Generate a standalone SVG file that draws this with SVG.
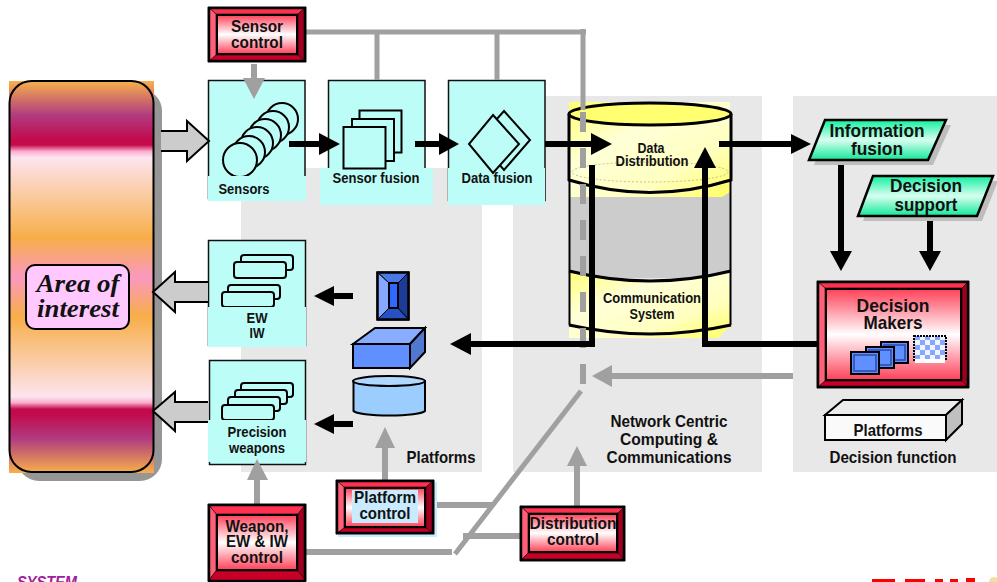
<svg xmlns="http://www.w3.org/2000/svg" width="997" height="582" viewBox="0 0 997 582">
<style>
text{font-family:"Liberation Sans",Arial,sans-serif;font-weight:bold;fill:#111;text-anchor:middle}
.s13{font-size:14.500px}.s15{font-size:17px}.s17{font-size:18.500px}
.panel{fill:#e8e8e8}
.box{fill:#bdfdf8;stroke:#111;stroke-width:1.5}
.band{fill:#bdfdf8}
.ico{fill:#bdfdf8;stroke:#000;stroke-width:2}
.bt{fill:#ff3050}.bl{fill:#ff6078}.br{fill:#a00020}.bb{fill:#c80028}
.bo{fill:none;stroke:#000;stroke-width:2.500}
.bi{fill:url(#red);stroke:#000;stroke-width:2}
.bx{stroke:#000;stroke-width:.6}
.gl{fill:none;stroke:#a0a0a0;stroke-width:6}
.gh{fill:#a0a0a0}
.kl{fill:none;stroke:#000;stroke-width:6}
.kh{fill:#000}
.blk{fill:#ccc}
.blks{fill:none;stroke:#000;stroke-width:2}
.par{fill:url(#grn);stroke:#000;stroke-width:2.500}
.cy{stroke:#000;stroke-width:3;fill:none}
.win{fill:#6090ff;stroke:#000;stroke-width:2}
.winb{fill:none;stroke:#2848a8;stroke-width:1.5}
</style>
<defs>
<linearGradient id="aoi" gradientUnits="userSpaceOnUse" x1="0" y1="81" x2="0" y2="473">
<stop offset="0" stop-color="#f7b04a"/><stop offset="0.087" stop-color="#b03c80"/><stop offset="0.15" stop-color="#c20a4c"/><stop offset="0.163" stop-color="#c20a4c"/><stop offset="0.18" stop-color="#fbb0d0"/><stop offset="0.195" stop-color="#fde4ef"/><stop offset="0.4" stop-color="#f7ae48"/><stop offset="0.5" stop-color="#fb98c0"/><stop offset="0.6" stop-color="#f7ae48"/><stop offset="0.805" stop-color="#fde4ef"/><stop offset="0.82" stop-color="#fbb0d0"/><stop offset="0.837" stop-color="#c20a4c"/><stop offset="0.85" stop-color="#c20a4c"/><stop offset="0.913" stop-color="#b03c80"/><stop offset="1" stop-color="#f7b04a"/>
</linearGradient>
<linearGradient id="red" x1="0" y1="0" x2="0" y2="1"><stop offset="0" stop-color="#ff4058"/><stop offset="0.5" stop-color="#fff"/><stop offset="1" stop-color="#ff4058"/></linearGradient>
<linearGradient id="grn" x1="0" y1="0" x2="0" y2="1"><stop offset="0" stop-color="#10f0a0"/><stop offset="0.5" stop-color="#d8fff0"/><stop offset="1" stop-color="#10e898"/></linearGradient>
<linearGradient id="yel" x1="0" y1="0" x2="1" y2="1"><stop offset="0" stop-color="#ffff70"/><stop offset="0.35" stop-color="#ffffd8"/><stop offset="0.7" stop-color="#ffffc0"/><stop offset="1" stop-color="#ffff60"/></linearGradient>
<pattern id="chk" width="10" height="10" patternUnits="userSpaceOnUse"><rect width="10" height="10" fill="#f0f4ff"/><rect width="5" height="5" fill="#88a8ff"/><rect x="5" y="5" width="5" height="5" fill="#88a8ff"/></pattern>
</defs>

<g id="panels">
<rect class="panel" x="241" y="168" width="241" height="304"/>
<rect class="panel" x="513" y="96" width="249" height="376"/>
<rect class="panel" x="793" y="96" width="204" height="376"/>
</g>

<g id="area-of-interest">
<rect x="9" y="81" width="145" height="392" fill="#f7b04a"/>
<rect x="17" y="89" width="145" height="392" rx="22" fill="#969696"/>
<rect x="9" y="81" width="145" height="392" fill="url(#aoi)"/>
<rect x="9.500" y="81" width="144" height="391" rx="22" fill="none" stroke="#000" stroke-width="2"/>
<rect x="26" y="265" width="103" height="64" rx="9" fill="#ffc8ff" stroke="#000" stroke-width="2"/>
<text x="78" y="292" textLength="83" lengthAdjust="spacingAndGlyphs" style="font-family:'Liberation Serif',serif;font-style:italic;font-size:26px">Area of</text>
<text x="78" y="317" textLength="82" lengthAdjust="spacingAndGlyphs" style="font-family:'Liberation Serif',serif;font-style:italic;font-size:26px">interest</text>
</g>

<g id="sensors">
<rect class="box" x="208.500" y="80.500" width="96.500" height="118"/>
<g class="ico">
<circle cx="282" cy="119" r="16"/><circle cx="273" cy="127" r="16"/><circle cx="265" cy="135" r="16"/><circle cx="257" cy="143" r="16"/><circle cx="249" cy="152" r="16"/><circle cx="240" cy="160" r="17"/>
</g>
<rect class="band" x="208" y="176" width="98" height="25"/>
<text class="s13" x="244" y="194" textLength="51" lengthAdjust="spacingAndGlyphs">Sensors</text>
</g>

<g id="sensor-fusion">
<rect class="box" x="328.500" y="80.500" width="96.500" height="100"/>
<g class="ico">
<rect x="359.500" y="110.500" width="42" height="42"/><rect x="352" y="119" width="42" height="42"/>
</g>
<rect class="band" x="320" y="168" width="113" height="37"/>
<rect class="ico" x="343.500" y="127" width="42" height="41.500"/>
<text class="s13" x="376" y="183" textLength="87" lengthAdjust="spacingAndGlyphs">Sensor fusion</text>
</g>

<g id="data-fusion">
<rect class="box" x="448.500" y="80.500" width="96.500" height="120"/>
<rect class="band" x="448" y="168" width="97" height="37"/>
<polygon class="ico" points="504,111 530,140 504,170 478,140"/>
<polygon class="ico" points="493,115 519,144 493,173 469,144"/>
<text class="s13" x="497" y="183" textLength="71" lengthAdjust="spacingAndGlyphs">Data fusion</text>
</g>

<g id="cylinder">
<rect x="569" y="190" width="161" height="88" fill="#ccc"/>
<path d="M569 102H730V192L722 197H569Z" fill="url(#yel)"/>
<path d="M569 270Q650 292 731 270V325L718 338H569Z" fill="url(#yel)"/>
<ellipse cx="650" cy="114" rx="81" ry="11" fill="#ffff70"/>
<ellipse cx="650" cy="172" rx="78" ry="10" fill="none" stroke="#c8c088" stroke-width="1" stroke-dasharray="2 2"/>
<path class="cy" d="M569 114V180Q650 205 731 180V114"/>
<ellipse class="cy" cx="650" cy="114" rx="81" ry="11"/>
<path d="M569.500 180V325M730.500 180V325" stroke="#000" stroke-width="2" fill="none"/>
<path class="cy" d="M569 271Q650 291 731 271"/>
<path class="cy" d="M569 325Q650 343 731 325"/>
<text class="s13" x="651" y="153" textLength="27" lengthAdjust="spacingAndGlyphs">Data</text>
<text class="s13" x="652" y="166" textLength="73" lengthAdjust="spacingAndGlyphs">Distribution</text>
<text class="s13" x="652" y="303" textLength="98" lengthAdjust="spacingAndGlyphs">Communication</text>
<text class="s13" x="652" y="319" textLength="45" lengthAdjust="spacingAndGlyphs">System</text>
</g>

<g id="information-fusion">
<polygon points="830,125 951,125 933,165 814,165" fill="#bdbdbd"/>
<polygon class="par" points="825,120 946,120 928,160 809,160"/>
<text class="s17" x="877" y="137" textLength="95" lengthAdjust="spacingAndGlyphs">Information</text>
<text class="s17" x="877" y="155" textLength="52" lengthAdjust="spacingAndGlyphs">fusion</text>
</g>

<g id="decision-support">
<polygon points="878,181 998,181 982,221 863,221" fill="#bdbdbd"/>
<polygon class="par" points="873,176 993,176 977,216 858,216"/>
<text class="s17" x="926" y="192" textLength="72" lengthAdjust="spacingAndGlyphs">Decision</text>
<text class="s17" x="926" y="211" textLength="63" lengthAdjust="spacingAndGlyphs">support</text>
</g>

<g id="decision-makers">
<polygon class="bt bx" points="817,281 969,281 962,288 825,288"/>
<polygon class="bl bx" points="817,281 825,288 825,381 817,388"/>
<polygon class="br bx" points="969,281 969,388 962,381 962,288"/>
<polygon class="bb bx" points="817,388 825,381 962,381 969,388"/>
<rect class="bi" x="826" y="289" width="135" height="91"/>
<rect class="bo" x="818" y="282" width="150" height="105"/>
<text class="s17" x="893" y="312" textLength="73" lengthAdjust="spacingAndGlyphs">Decision</text>
<text class="s17" x="893" y="329" textLength="59" lengthAdjust="spacingAndGlyphs">Makers</text>
<rect class="win" x="881" y="342" width="27" height="21"/><rect class="winb" x="884" y="345" width="21" height="15"/>
<rect class="win" x="866" y="347" width="28" height="21"/><rect class="winb" x="869" y="350" width="22" height="15"/>
<rect class="win" x="851" y="352" width="28" height="22"/><rect class="winb" x="854" y="355" width="22" height="16"/>
<rect x="914" y="336" width="32" height="24" fill="url(#chk)" stroke="#000" stroke-width="2" stroke-dasharray="2 1"/>
<rect x="915" y="359" width="30" height="4" fill="#fff"/>
</g>

<g id="decision-platforms">
<polygon points="825,415 843,400 962,400 946,415" fill="#ececec" stroke="#000" stroke-width="2"/>
<polygon points="946,415 962,400 962,424 946,440" fill="#c0c0c0" stroke="#000" stroke-width="2"/>
<rect x="825" y="415" width="121" height="25" fill="#fafafa" stroke="#000" stroke-width="2"/>
<text x="888" y="436" textLength="69" lengthAdjust="spacingAndGlyphs" style="font-size:17px">Platforms</text>
</g>
<text id="decision-function-label" x="893" y="463" textLength="127" lengthAdjust="spacingAndGlyphs" style="font-size:17px">Decision function</text>
<text id="platforms-label" x="441" y="463" textLength="69" lengthAdjust="spacingAndGlyphs" style="font-size:17px">Platforms</text>
<g id="network-label" class="s15">
<text x="669" y="427" textLength="117" lengthAdjust="spacingAndGlyphs">Network Centric</text>
<text x="669" y="445" textLength="98" lengthAdjust="spacingAndGlyphs">Computing &amp;</text>
<text x="669" y="463" textLength="125" lengthAdjust="spacingAndGlyphs">Communications</text>
</g>

<g id="ew-iw">
<rect class="box" x="208.500" y="240.500" width="97" height="105"/>
<g class="ico">
<rect x="241" y="255" width="52" height="15" rx="3"/><rect x="234" y="262" width="52" height="16" rx="3"/>
<rect x="228" y="285" width="52" height="14" rx="3"/><rect x="222" y="292" width="52" height="15" rx="3"/>
</g>
<rect class="band" x="208" y="307" width="98" height="40"/>
<text class="s13" x="257" y="323" textLength="21" lengthAdjust="spacingAndGlyphs">EW</text>
<text class="s13" x="257" y="338" textLength="15" lengthAdjust="spacingAndGlyphs">IW</text>
</g>

<g id="precision-weapons">
<rect class="box" x="209.500" y="360.500" width="96" height="104"/>
<g class="ico">
<rect x="241" y="383" width="52" height="14" rx="3"/><rect x="235" y="390" width="52" height="14" rx="3"/><rect x="228" y="397" width="52" height="14" rx="3"/><rect x="222" y="405" width="52" height="15" rx="3"/>
</g>
<rect class="band" x="208" y="420" width="98" height="42"/>
<text class="s13" x="257" y="437" textLength="59" lengthAdjust="spacingAndGlyphs">Precision</text>
<text class="s13" x="257" y="453" textLength="56" lengthAdjust="spacingAndGlyphs">weapons</text>
</g>

<g id="platform-icons">
<rect x="377" y="272" width="32" height="48" fill="#000"/>
<polygon points="377,272 409,272 398,283 389,283" fill="#4a78e8" stroke="#000"/>
<polygon points="377,272 389,283 389,308 377,320" fill="#88a8ff" stroke="#000"/>
<polygon points="409,272 409,320 398,308 398,283" fill="#1c3c98" stroke="#000"/>
<polygon points="377,320 389,308 398,308 409,320" fill="#2850c0" stroke="#000"/>
<rect x="389" y="283" width="9" height="25" fill="#3068ff" stroke="#000" stroke-width="2"/>
<rect x="377.500" y="272.500" width="31" height="47" fill="none" stroke="#000" stroke-width="2.500"/>
<polygon points="353,344 375,328 425,328 410,344" fill="#88acff" stroke="#000" stroke-width="2"/>
<polygon points="410,344 425,328 425,352 410,368" fill="#5078d0" stroke="#000" stroke-width="2"/>
<rect x="353" y="344" width="57" height="24" fill="#6090ff" stroke="#000" stroke-width="2"/>
<path d="M353.500 381V411A36 5 0 0 0 425 411V381Z" fill="#9ccdff" stroke="#000" stroke-width="2"/>
<ellipse cx="389" cy="381" rx="36" ry="5" fill="#b0d8ff" stroke="#000" stroke-width="2"/>
</g>

<g id="connectors">
<path class="blk" d="M161 131H187V121L209 141L187 161V151H161Z"/>
<path class="blks" d="M161 131H187V121L209 141L187 161V151H161"/>
<path class="blk" d="M208 282H175V272L153 292L175 312V302H208Z"/>
<path class="blks" d="M208 282H175V272L153 292L175 312V302H208"/>
<path class="blk" d="M208 402H175V392L153 411L175 431V422H208Z"/>
<path class="blks" d="M208 402H175V392L153 411L175 431V422H208"/>
<path d="M306 32H586M377 32V80M497 30V80M583 29V110" class="gl" style="stroke-width:5"/>
<path d="M583 112V384" class="gl" stroke-dasharray="20 16"/>
<path d="M581 391L455 554" class="gl" style="stroke-width:5"/>
<path d="M306 552H452M437 505H492M463 536H520" class="gl"/>
<path d="M254 64V80M257 504V478M385 480V446M577 506V464M793 376H610" class="gl"/>
<polygon class="gh" points="243,78 265,78 254,99"/>
<polygon class="gh" points="247,480 268,480 257,459"/>
<polygon class="gh" points="375,448 395,448 385,427"/>
<polygon class="gh" points="567,466 587,466 577,446"/>
<polygon class="gh" points="612,365 612,387 592,376"/>
<path d="M289 144H321M415 144H441M545 144H593M719 144H793M841 165V253M930 221V253" class="kl"/>
<path d="M817 344H705V165M592 165V344H469M353 296H332M353 424H332" class="kl"/>
<polygon class="kh" points="319,133 319,155 340,144"/>
<polygon class="kh" points="439,133 439,155 459,144"/>
<polygon class="kh" points="591,133 591,155 612,144"/>
<polygon class="kh" points="791,134 791,154 811,144"/>
<polygon class="kh" points="830,251 852,251 841,271"/>
<polygon class="kh" points="919,251 941,251 930,271"/>
<polygon class="kh" points="694,168 716,168 705,147"/>
<polygon class="kh" points="471,333 471,355 450,344"/>
<polygon class="kh" points="334,286 334,306 314,296"/>
<polygon class="kh" points="334,414 334,434 314,424"/>
</g>

<g id="sensor-control">
<polygon class="bt bx" points="208,7 306,7 298,14 216,14"/>
<polygon class="bl bx" points="208,7 216,14 216,55 208,62"/>
<polygon class="br bx" points="306,7 306,62 298,55 298,14"/>
<polygon class="bb bx" points="208,62 216,55 298,55 306,62"/>
<rect class="bi" x="217" y="15" width="80" height="39"/>
<rect class="bo" x="209" y="8" width="96" height="53"/>
<text class="s15" x="257" y="32" textLength="52" lengthAdjust="spacingAndGlyphs">Sensor</text>
<text class="s15" x="257" y="48" textLength="52" lengthAdjust="spacingAndGlyphs">control</text>
</g>

<g id="weapon-control">
<polygon class="bt bx" points="208,504 306,504 298,514 216,514"/>
<polygon class="bl bx" points="208,504 216,514 216,571 208,581"/>
<polygon class="br bx" points="306,504 306,581 298,571 298,514"/>
<polygon class="bb bx" points="208,581 216,571 298,571 306,581"/>
<rect class="bi" x="217" y="515" width="80" height="55"/>
<rect class="bo" x="209" y="505" width="96" height="76"/>
<text class="s15" x="257" y="532" textLength="63" lengthAdjust="spacingAndGlyphs">Weapon,</text>
<text class="s15" x="257" y="547" textLength="62" lengthAdjust="spacingAndGlyphs">EW &amp; IW</text>
<text class="s15" x="257" y="563" textLength="52" lengthAdjust="spacingAndGlyphs">control</text>
</g>

<g id="platform-control">
<rect x="338" y="482" width="99" height="55" fill="#c8ebff"/>
<polygon class="bt bx" points="336,480 434,480 426,487 344,487"/>
<polygon class="bl bx" points="336,480 344,487 344,528 336,534"/>
<polygon class="br bx" points="434,480 434,534 426,528 426,487"/>
<polygon class="bb bx" points="336,534 344,528 426,528 434,534"/>
<rect class="bi" x="345" y="488" width="80" height="39"/>
<rect x="352" y="490" width="66" height="33" fill="#c8ebff"/>
<rect class="bo" x="337" y="481" width="96" height="52"/>
<text class="s15" x="385" y="503" textLength="62" lengthAdjust="spacingAndGlyphs">Platform</text>
<text class="s15" x="385" y="519" textLength="51" lengthAdjust="spacingAndGlyphs">control</text>
</g>

<g id="distribution-control">
<polygon class="bt bx" points="520,506 625,506 618,513 528,513"/>
<polygon class="bl bx" points="520,506 528,513 528,553 520,561"/>
<polygon class="br bx" points="625,506 625,561 618,553 618,513"/>
<polygon class="bb bx" points="520,561 528,553 618,553 625,561"/>
<rect class="bi" x="529" y="514" width="88" height="38"/>
<rect class="bo" x="521" y="507" width="103" height="53"/>
<text class="s15" x="573" y="529" textLength="87" lengthAdjust="spacingAndGlyphs">Distribution</text>
<text class="s15" x="573" y="545" textLength="52" lengthAdjust="spacingAndGlyphs">control</text>
</g>

<text id="logo-left" x="47" y="588" textLength="60" lengthAdjust="spacingAndGlyphs" style="font-size:16px;font-style:italic;fill:#a020a0">SYSTEM</text>
<g id="logo-right" fill="#f00">
<rect x="872" y="579" width="23" height="3"/>
<rect x="905" y="579" width="20" height="3"/>
<rect x="935" y="579" width="8" height="3"/>
<rect x="950" y="579" width="8" height="3"/>
<rect x="966" y="578" width="9" height="4"/>
</g>
<circle cx="994" cy="582" r="5" fill="#f0e0a0"/>
</svg>
